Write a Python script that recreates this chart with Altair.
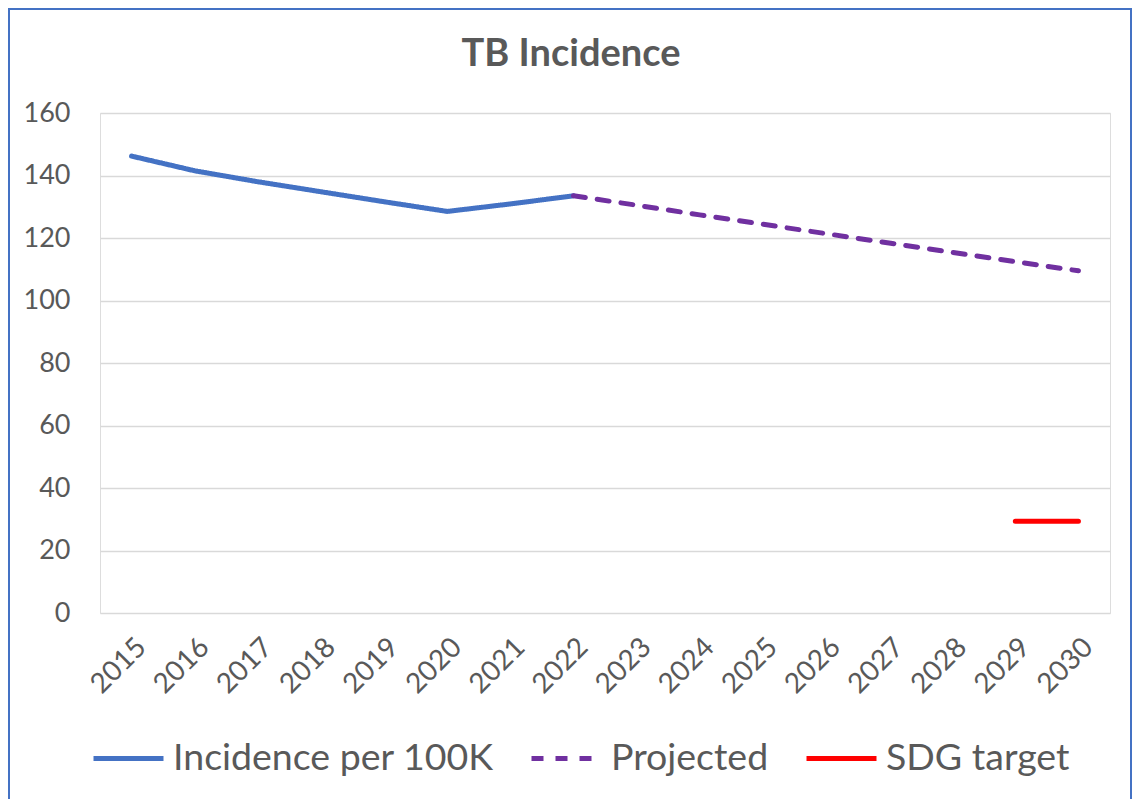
import altair as alt
import pandas as pd

years = [str(y) for y in range(2015, 2031)]

inc_years = ["2015", "2016", "2017", "2018", "2019", "2020", "2021", "2022"]
inc_values = [146.2, 141.5, 138.0, 134.8, 131.6, 128.5, 130.9, 133.5]

proj_years = ["2022", "2023", "2024", "2025", "2026", "2027", "2028", "2029", "2030"]
proj_values = [133.5, 130.5, 127.4, 124.4, 121.4, 118.4, 115.4, 112.4, 109.5]

sdg_years = ["2029", "2030"]
sdg_values = [29.4, 29.4]

series_names = ["Incidence per 100K", "Projected", "SDG target"]
series_colors = ["#4472C4", "#7030A0", "#FF0000"]
series_dash = [[1, 0], [12, 12], [1, 0]]

title_text = "TB Incidence"

rows = []
for yr, v in zip(inc_years, inc_values):
    rows.append({"year": yr, "value": v, "series": series_names[0]})
for yr, v in zip(proj_years, proj_values):
    rows.append({"year": yr, "value": v, "series": series_names[1]})
for yr, v in zip(sdg_years, sdg_values):
    rows.append({"year": yr, "value": v, "series": series_names[2]})
df = pd.DataFrame(rows)

W, H = 1010, 500
PL, PT, PR, PB = 92, 105, 22, 186

legend_kw = dict(title=None, orient="none", legendX=-9, legendY=608,
                 direction="horizontal", symbolType="stroke",
                 symbolSize=4900, symbolStrokeWidth=5,
                 labelFontSize=37.5, labelColor="#595959", labelFont="Lato",
                 labelOffset=7, columnPadding=27, labelLimit=600, padding=0)

lines = alt.Chart(df).mark_line(strokeWidth=5, strokeCap="round", strokeJoin="round").encode(
    x=alt.X("year:O", scale=alt.Scale(domain=years, type="point", padding=0.5),
            axis=alt.Axis(title=None, labelAngle=-45, ticks=False, domain=False, grid=False,
                          labelPadding=20, labelFontSize=28, labelColor="#595959",
                          labelFont="Lato")),
    y=alt.Y("value:Q", scale=alt.Scale(domain=[0, 160]),
            axis=alt.Axis(title=None, values=list(range(0, 161, 20)), ticks=False, domain=False,
                          grid=True, gridColor="#D9D9D9", gridWidth=1.3,
                          labelPadding=30, labelFontSize=27, labelColor="#595959",
                          labelFont="Lato")),
    color=alt.Color("series:N", scale=alt.Scale(domain=series_names, range=series_colors),
                    legend=alt.Legend(**legend_kw)),
    strokeDash=alt.StrokeDash("series:N", scale=alt.Scale(domain=series_names, range=series_dash),
                              legend=alt.Legend(**legend_kw)),
    detail="series:N",
)

border = alt.Chart(alt.Data(values=[{}])).mark_rect(
    fill=None, stroke="#4472C4", strokeWidth=2, clip=False
).encode(
    x=alt.value(-PL + 1), x2=alt.value(W + PR - 1),
    y=alt.value(-PT + 1), y2=alt.value(H + PB + 10),
)

title = alt.Chart(alt.Data(values=[{"t": title_text}])).mark_text(
    fontSize=38, fontWeight="bold", color="#595959", font="Lato",
    align="center", baseline="alphabetic"
).encode(
    text="t:N",
    x=alt.value(W / 2 - 34), y=alt.value(-47),
)

chart = alt.layer(border, lines, title).properties(
    width=W, height=H,
    autosize=alt.AutoSizeParams(type="none"),
    padding={"left": PL, "top": PT, "right": PR, "bottom": PB},
).configure_view(stroke=None).configure(background="white")

chart.save("out.html", embed_options={"renderer": "svg", "actions": False})
